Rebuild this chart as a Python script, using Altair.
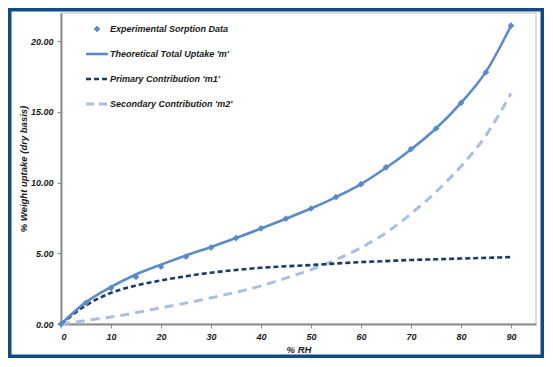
import altair as alt
import pandas as pd

# ---- data ----
rh = [0, 5, 10, 15, 20, 25, 30, 35, 40, 45, 50, 55, 60, 65, 70, 75, 80, 85, 90]
exp_uptake = [0, 1.50, 2.55, 3.33, 4.05, 4.76, 5.41, 6.08, 6.77, 7.46, 8.17, 8.98,
              9.89, 11.08, 12.38, 13.83, 15.64, 17.81, 21.10]
m_total = [0, 1.55, 2.62, 3.50, 4.20, 4.85, 5.45, 6.08, 6.75, 7.45, 8.17, 8.98,
           9.90, 11.05, 12.35, 13.83, 15.64, 17.85, 21.10]
m1_primary = [0, 1.32, 2.20, 2.72, 3.08, 3.38, 3.63, 3.82, 3.98, 4.08, 4.17, 4.28,
              4.38, 4.45, 4.53, 4.58, 4.63, 4.68, 4.73]
m2_secondary = [0, 0.25, 0.50, 0.80, 1.15, 1.48, 1.85, 2.25, 2.70, 3.25, 3.85, 4.55,
                5.40, 6.45, 7.80, 9.35, 11.15, 13.35, 16.30]

legend_labels = ["Experimental Sorption Data", "Theoretical Total Uptake 'm'",
                 "Primary Contribution 'm1'", "Secondary Contribution 'm2'"]

x_title = "% RH"
y_title = "% Weight uptake (dry basis)"

# ---- styles ----
C_TOTAL = "#5b8bc7"
C_M1 = "#1e3a62"
C_M2 = "#a9bfdd"
BORDER = "#124a82"
FONT = "Liberation Sans"
W, H = 475, 311

df_exp = pd.DataFrame({"rh": rh, "v": exp_uptake})
df_m = pd.DataFrame({"rh": rh, "v": m_total})
df_m1 = pd.DataFrame({"rh": rh, "v": m1_primary})
df_m2 = pd.DataFrame({"rh": rh, "v": m2_secondary})

xenc = alt.X("rh:Q", title=x_title,
             scale=alt.Scale(domain=[0, 95], nice=False, zero=False),
             axis=alt.Axis(values=list(range(0, 100, 10)), format="d",
                           titlePadding=3))
yenc = alt.Y("v:Q", title=y_title,
             scale=alt.Scale(domain=[0, 22], nice=False),
             axis=alt.Axis(values=[0, 5, 10, 15, 20], format=".2f",
                           titlePadding=2))

line_m2 = alt.Chart(df_m2).mark_line(
    color=C_M2, strokeWidth=3, strokeDash=[9, 6], interpolate="monotone"
).encode(x=xenc, y=yenc)
line_m1 = alt.Chart(df_m1).mark_line(
    color=C_M1, strokeWidth=2.6, strokeDash=[5, 3], interpolate="monotone"
).encode(x=xenc, y=yenc)
line_m = alt.Chart(df_m).mark_line(
    color=C_TOTAL, strokeWidth=2.6, interpolate="monotone"
).encode(x=xenc, y=yenc)
pts = alt.Chart(df_exp).mark_point(
    shape="diamond", filled=True, size=45, color=C_TOTAL, opacity=1
).encode(x=xenc, y=yenc)

one = alt.Data(values=[{}])

# ---- legend (drawn manually, top-left inside plot) ----
leg_y = [16, 41, 66, 91]
leg_pt = alt.Chart(one).mark_point(
    shape="diamond", filled=True, size=45, color=C_TOTAL, opacity=1
).encode(x=alt.value(36), y=alt.value(leg_y[0]))
leg_l1 = alt.Chart(one).mark_rule(color=C_TOTAL, strokeWidth=2.6).encode(
    x=alt.value(25), x2=alt.value(47), y=alt.value(leg_y[1]))
leg_l2 = alt.Chart(one).mark_rule(color=C_M1, strokeWidth=2.6, strokeDash=[5, 3]).encode(
    x=alt.value(25), x2=alt.value(47), y=alt.value(leg_y[2]))
leg_l3 = alt.Chart(one).mark_rule(color=C_M2, strokeWidth=3, strokeDash=[8, 5]).encode(
    x=alt.value(25), x2=alt.value(46), y=alt.value(leg_y[3]))
leg_txt = [
    alt.Chart(one).mark_text(
        align="left", baseline="middle", font=FONT, fontSize=9,
        fontStyle="italic", fontWeight="bold", color="#1a1a1a"
    ).encode(x=alt.value(49), y=alt.value(yy), text=alt.value(lab))
    for yy, lab in zip(leg_y, legend_labels)
]

# ---- outer frame ----
frame = alt.Chart(one).mark_rect(
    fillOpacity=0, stroke=BORDER, strokeWidth=3.5
).encode(x=alt.value(-53 + 1.75), x2=alt.value(W + 8 - 1.75),
         y=alt.value(-5 + 1.75), y2=alt.value(H + 34 - 1.75))

chart = alt.layer(
    line_m2, line_m1, line_m, pts,
    leg_pt, leg_l1, leg_l2, leg_l3, *leg_txt, frame
).properties(
    width=W, height=H,
    autosize=alt.AutoSizeParams(type="none"),
    padding={"left": 53, "top": 5, "right": 8, "bottom": 34},
    background="white",
).configure_view(
    stroke="#d4d4d4", strokeWidth=1.5
).configure_axis(
    grid=False,
    domainColor="#8c8c8c", domainWidth=2,
    tickColor="#8c8c8c", tickSize=4, tickWidth=1,
    labelFont=FONT, labelFontSize=9, labelFontStyle="italic",
    labelFontWeight="bold", labelColor="#1a1a1a", labelPadding=4,
    titleFont=FONT, titleFontSize=9.5, titleFontStyle="italic",
    titleFontWeight="bold", titleColor="#1a1a1a",
)

chart.save("out.html", embed_options={"renderer": "svg", "actions": False})
